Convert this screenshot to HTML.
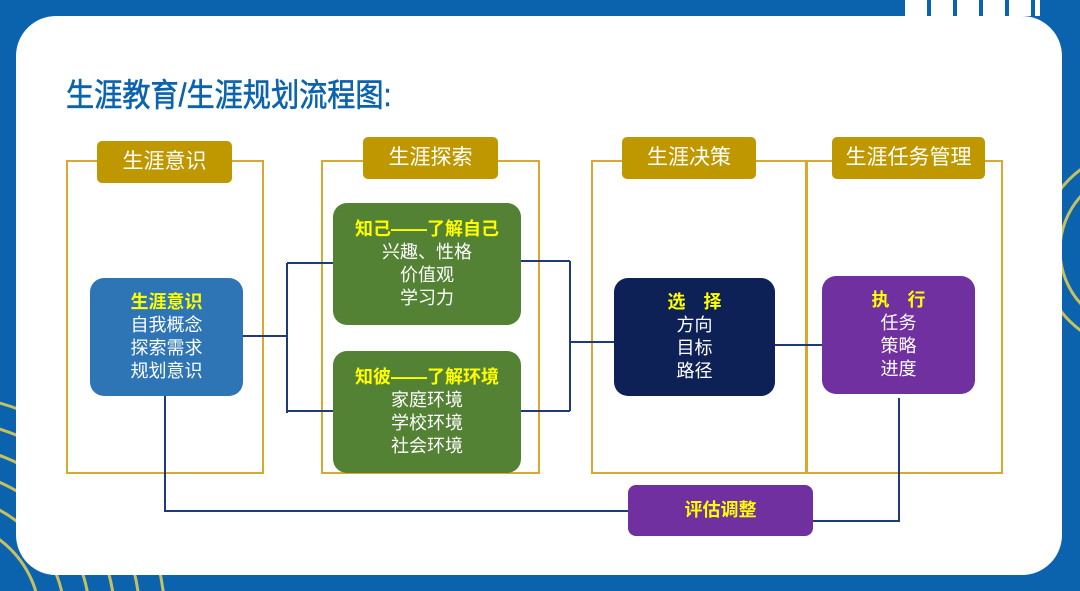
<!DOCTYPE html>
<html style="overflow:hidden"><head><meta charset="utf-8"><style>
html,body{margin:0;width:1080px;height:591px;overflow:hidden}
body{background:#0b63ae;position:relative;font-family:"Liberation Sans","Noto Sans CJK SC",sans-serif}
.a{position:absolute;box-sizing:border-box}
.card{left:16px;top:16px;width:1046px;height:559px;background:#fff;border-radius:40px}
.frame{border:2px solid #d9a830}
.lab{background:#bf9800;color:#fff;font-size:21px;text-align:center;border-radius:5px}
.n{color:#fff;font-size:18px;text-align:center;line-height:23px;border-radius:14px;display:flex;flex-direction:column;justify-content:center}
.y{color:#ffff00;font-weight:bold}
</style></head><body>
<svg class="a" style="left:0;top:0;display:block" width="1080" height="591">
<g fill="none" stroke="#c8c060" stroke-width="3">
<circle cx="-60" cy="620" r="100"/><circle cx="-60" cy="620" r="125"/><circle cx="-60" cy="620" r="150"/><circle cx="-60" cy="620" r="175"/><circle cx="-60" cy="620" r="200"/><circle cx="-60" cy="620" r="225"/>
<circle cx="1140" cy="250" r="80"/><circle cx="1140" cy="250" r="100"/>
</g>
<g fill="#fff"><rect x="905" y="0" width="22" height="16"/><rect x="931" y="0" width="22" height="16"/><rect x="957" y="0" width="22" height="16"/><rect x="983" y="0" width="22" height="16"/><rect x="1009" y="0" width="22" height="16"/><rect x="1035" y="0" width="5" height="16"/></g>
</svg>
<div class="a card"></div>
<div class="a" style="left:66px;top:70px;font-size:32px;color:#0b63ae;transform:scaleX(0.88);transform-origin:left;-webkit-text-stroke:0.6px #0b63ae">生涯教育/生涯规划流程图:</div>
<div class="a frame" style="left:66px;top:160px;width:198px;height:314px"></div>
<div class="a frame" style="left:321px;top:160px;width:219px;height:314px"></div>
<div class="a frame" style="left:591px;top:160px;width:217px;height:314px"></div>
<div class="a frame" style="left:805px;top:160px;width:198px;height:314px"></div>
<div class="a lab" style="left:97px;top:141px;width:135px;height:42px;line-height:42px">生涯意识</div>
<div class="a lab" style="left:363px;top:137px;width:135px;height:42px;line-height:42px">生涯探索</div>
<div class="a lab" style="left:622px;top:137px;width:134px;height:42px;line-height:42px">生涯决策</div>
<div class="a lab" style="left:832px;top:137px;width:153px;height:42px;line-height:42px">生涯任务管理</div>
<svg class="a" style="left:0;top:0;display:block" width="1080" height="591"><g stroke="#1f3a7a" stroke-width="2" fill="none">
<path d="M243 336H287M287 263V413M287 263H333M287 411H333"/>
<path d="M521 261H570M521 411H570M570 261V411M570 342H614"/>
<path d="M775 345H822"/>
<path d="M165 395V511H628"/>
<path d="M813 521H899V398"/>
</g></svg>
<div class="a n" style="left:90px;top:278px;width:153px;height:118px;background:#2e75b6"><span class="y">生涯意识</span>自我概念<br>探索需求<br>规划意识</div>
<div class="a n" style="left:333px;top:203px;width:188px;height:122px;background:#548235"><span class="y">知己——了解自己</span>兴趣、性格<br>价值观<br>学习力</div>
<div class="a n" style="left:333px;top:351px;width:188px;height:122px;background:#548235"><span class="y">知彼——了解环境</span>家庭环境<br>学校环境<br>社会环境</div>
<div class="a n" style="left:614px;top:278px;width:161px;height:118px;background:#0e2156"><span class="y">选　择</span>方向<br>目标<br>路径</div>
<div class="a n" style="left:822px;top:276px;width:153px;height:118px;background:#7030a0"><span class="y">执　行</span>任务<br>策略<br>进度</div>
<div class="a n" style="left:628px;top:485px;width:185px;height:51px;background:#7030a0;border-radius:8px"><span class="y">评估调整</span></div>
</body></html>
